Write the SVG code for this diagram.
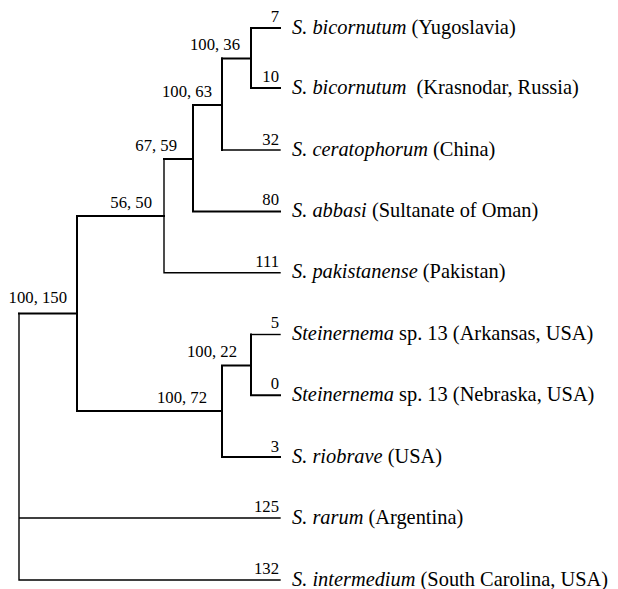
<svg xmlns="http://www.w3.org/2000/svg" width="618" height="589" viewBox="0 0 618 589">
<style>
.bg{fill:#fff}
.thick{stroke:#000;stroke-width:2;fill:none;stroke-linecap:square}
.thin{stroke:#000;stroke-width:1.4;fill:none;stroke-linecap:square}
.bl{font-family:"Liberation Serif","Times New Roman",serif;font-size:16.7px;fill:#000;text-anchor:end}
.tx{font-family:"Liberation Serif","Times New Roman",serif;font-size:20.4px;fill:#000}
.it{font-style:italic}
</style>
<rect class="bg" x="0" y="0" width="618" height="589"/>
<g id="connectors">
<path class="thick" d="M251 28H280M251 28V88H280M222 58.5H251"/>
<path class="thick" d="M222 58.5V150"/>
<path class="thin" d="M222 150H280"/>
<path class="thick" d="M193 105H222M193 105V211.5H280"/>
<path class="thick" d="M164 159H193"/>
<path class="thin" d="M164 159V272.7H280"/>
<path class="thick" d="M77 216H164"/>
<path class="thick" d="M77 216V411H222"/>
<path class="thick" d="M19 313.5H77"/>
<path class="thick" d="M222 365.5H251M251 334.5V395.3H280M222 365.5V457H280"/>
<path class="thin" d="M251 334.5H280"/>
<path class="thin" d="M19 313.5V580H280M19 518H280"/>
</g>
<g id="branch-labels">
<text class="bl" x="279" y="22">7</text>
<text class="bl" x="279" y="82">10</text>
<text class="bl" x="279" y="145">32</text>
<text class="bl" x="279" y="205">80</text>
<text class="bl" x="279" y="267">111</text>
<text class="bl" x="279" y="328">5</text>
<text class="bl" x="279" y="389">0</text>
<text class="bl" x="279" y="452">3</text>
<text class="bl" x="279" y="512">125</text>
<text class="bl" x="279" y="574">132</text>
<text class="bl" x="240" y="50">100, 36</text>
<text class="bl" x="212" y="97">100, 63</text>
<text class="bl" x="177" y="151">67, 59</text>
<text class="bl" x="152" y="208">56, 50</text>
<text class="bl" x="67" y="303">100, 150</text>
<text class="bl" x="237" y="357">100, 22</text>
<text class="bl" x="207" y="403">100, 72</text>
</g>
<g id="leaf-yugoslavia"><text class="tx" x="292" y="34"><tspan class="it">S. bicornutum</tspan> (Yugoslavia)</text></g>
<g id="leaf-krasnodar"><text class="tx" x="292" y="94"><tspan class="it">S. bicornutum</tspan><tspan dx="5"> (Krasnodar, Russia)</tspan></text></g>
<g id="leaf-china"><text class="tx" x="292" y="156"><tspan class="it">S. ceratophorum</tspan> (China)</text></g>
<g id="leaf-oman"><text class="tx" x="292" y="217"><tspan class="it">S. abbasi</tspan> (Sultanate of Oman)</text></g>
<g id="leaf-pakistan"><text class="tx" x="292" y="278"><tspan class="it">S. pakistanense</tspan> (Pakistan)</text></g>
<g id="leaf-arkansas"><text class="tx" x="292" y="340"><tspan class="it">Steinernema</tspan> sp. 13 (Arkansas, USA)</text></g>
<g id="leaf-nebraska"><text class="tx" x="292" y="401"><tspan class="it">Steinernema</tspan> sp. 13 (Nebraska, USA)</text></g>
<g id="leaf-riobrave"><text class="tx" x="292" y="463"><tspan class="it">S. riobrave</tspan> (USA)</text></g>
<g id="leaf-rarum"><text class="tx" x="292" y="524"><tspan class="it">S. rarum</tspan> (Argentina)</text></g>
<g id="leaf-intermedium"><text class="tx" x="292" y="586"><tspan class="it">S. intermedium</tspan> (South Carolina, USA)</text></g>
</svg>
